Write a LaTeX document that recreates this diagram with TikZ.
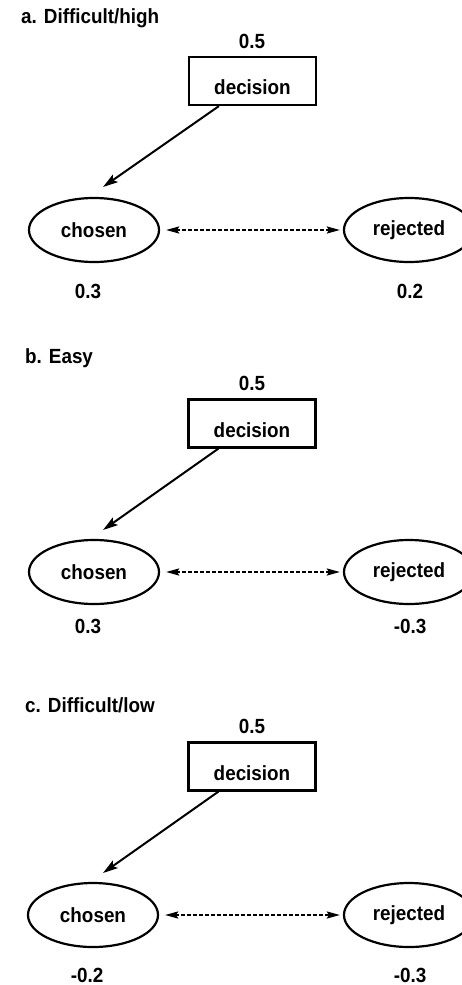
\documentclass[tikz,border=0pt]{standalone}
\usepackage{fontspec}
\setmainfont{Liberation Sans}[FakeStretch=0.92,Ligatures=NoCommon]
\usetikzlibrary{arrows.meta,shapes.geometric}
\begin{document}
\begin{tikzpicture}[x=1pt,y=-1pt,
  every node/.style={font=\fontsize{20.5}{24}\selectfont\bfseries, inner sep=0pt},
  paneltitle/.style={anchor=west},
  decbox/.style={draw, line width=2.2pt, minimum width=127pt, minimum height=48pt,
    text height=27pt, text depth=0pt},
  oval/.style={draw, ellipse, line width=2.2pt, minimum width=130pt, minimum height=64pt},
  causal/.style={line width=2pt, -{Stealth[length=15pt,width=9pt,inset=3pt]}},
  mutual/.style={line width=2pt, dash pattern=on 4pt off 2pt,
    {Stealth[length=13pt,width=7pt,inset=2pt]}-{Stealth[length=13pt,width=7pt,inset=2pt]},
    shorten <=6pt, shorten >=3pt}
]
\clip (0,0) rectangle (462,985);

% ---- a. Difficult/high ----
\node[paneltitle] (ta) at (21,18) {a. Difficult/high};
\node (pa) at (252,41) {0.5};
\node[decbox] (da) at (252.5,81) {decision};
\node[oval] (ca) at (94,230) {chosen};
\node[oval] (ra) at (409,230) {rejected};
\coordinate (tipa) at (103,187);
\draw[causal] ([xshift=31pt]da.south west) -- (tipa);
\draw[mutual] (ca.east) -- (ra.west);
\node (vca) at (88,291) {0.3};
\node (vra) at (410,291) {0.2};

% ---- b. Easy ----
\node[paneltitle] (tb) at (25,358) {b. Easy};
\node (pb) at (252,383) {0.5};
\node[decbox] (db) at (252,423.5) {decision};
\node[oval] (cb) at (94,572) {chosen};
\node[oval] (rb) at (409,572) {rejected};
\coordinate (tipb) at (103,530);
\draw[causal] ([xshift=31pt]db.south west) -- (tipb);
\draw[mutual] (cb.east) -- (rb.west);
\node (vcb) at (88,626) {0.3};
\node (vrb) at (410,626) {-0.3};

% ---- c. Difficult/low ----
\node[paneltitle] (tc) at (25,705) {c. Difficult/low};
\node (pc) at (252,726) {0.5};
\node[decbox] (dc) at (252,766.5) {decision};
\node[oval] (cc) at (93,915) {chosen};
\node[oval] (rc) at (409,915) {rejected};
\coordinate (tipc) at (103,873);
\draw[causal] ([xshift=31pt]dc.south west) -- (tipc);
\draw[mutual] (cc.east) -- (rc.west);
\node (vcc) at (87,975) {-0.2};
\node (vrc) at (410,975) {-0.3};
\end{tikzpicture}
\end{document}
